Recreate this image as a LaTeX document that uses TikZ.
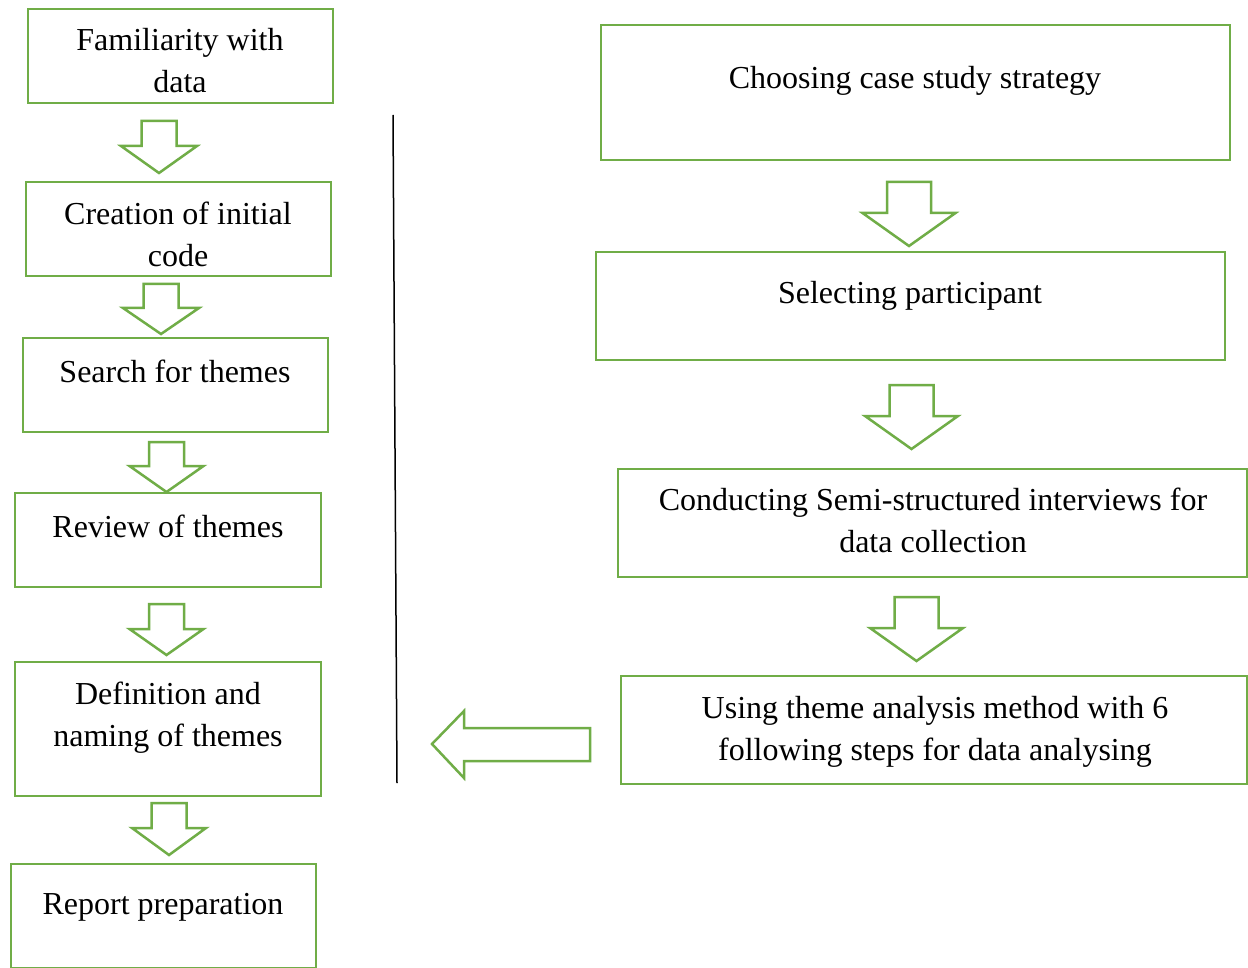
\documentclass[tikz,border=0pt]{standalone}
\usepackage{fontspec}
\setmainfont{Liberation Serif}
\definecolor{grn}{RGB}{112,173,71}
\newcommand\DArrow[6]{\draw[blk] (#1-#3,#2) -- (#1+#3,#2) -- (#1+#3,#2+#5) -- (#1+#4,#2+#5) -- (#1,#2+#5+#6) -- (#1-#4,#2+#5) -- (#1-#3,#2+#5) -- cycle;}
\begin{document}
\begin{tikzpicture}[x=0.5pt,y=-0.5pt,
  box/.style={draw=grn,line width=1.3pt,rectangle,inner sep=0pt},
  txt/.style={font=\fontsize{16}{21}\selectfont,align=center,inner sep=0pt,execute at begin node=\strut,execute at end node=\strut},
  blk/.style={draw=grn,line width=1.25pt,line join=miter,fill=white}]
\clip (0,0) rectangle (1248,968);
\fill[white] (0,0) rectangle (1248,968);
% left boxes
\node[box,minimum width=152.5pt,minimum height=47pt] (b1) at (180.5,56) {};
\node[box,minimum width=152.5pt,minimum height=47pt] (b2) at (178.5,229) {};
\node[box,minimum width=152.5pt,minimum height=47pt] (b3) at (175.5,385) {};
\node[box,minimum width=153pt,minimum height=47pt] (b4) at (168,540) {};
\node[box,minimum width=153pt,minimum height=67pt] (b5) at (168,729) {};
\node[box,minimum width=152.5pt,minimum height=52pt] (b6) at (163.5,916) {};
\node[txt] (t1) at (180,67) {Familiarity with\\data};
\node[txt] (t2) at (178,240.5) {Creation of initial\\code};
\node[txt] (t3) at (175,374) {Search for themes};
\node[txt] (t4) at (168,529) {Review of themes};
\node[txt] (t5) at (168,721) {Definition and\\naming of themes};
\node[txt] (t6) at (163,906) {Report preparation};
% right boxes
\node[box,minimum width=314.5pt,minimum height=67.5pt] (r1) at (915.5,92.5) {};
\node[box,minimum width=314.5pt,minimum height=54pt] (r2) at (910.5,306) {};
\node[box,minimum width=314.5pt,minimum height=54pt] (r3) at (932.5,523) {};
\node[box,minimum width=313pt,minimum height=54pt] (r4) at (934,730) {};
\node[txt] (s1) at (915,80.5) {Choosing case study strategy};
\node[txt] (s2) at (910,295) {Selecting participant};
\node[txt] (s3) at (933,527) {Conducting Semi-structured interviews for\\data collection};
\node[txt] (s4) at (935,735) {Using theme analysis method with 6\\following steps for data analysing};
% left block arrows
\DArrow{159}{121}{17.5}{38}{25}{27}
\DArrow{161}{284}{17.5}{38}{24}{26}
\DArrow{166.5}{442}{17.5}{37}{24}{26}
\DArrow{166.5}{604}{17.5}{37}{25}{26}
\DArrow{169}{803}{17.5}{37}{25}{27}
% right block arrows
\DArrow{909}{182}{22}{46.5}{31}{33}
\DArrow{911.5}{385}{22}{46.5}{31}{33}
\DArrow{916.5}{597}{22}{46.5}{31}{33}
% left block arrow
\draw[blk] (432,744) -- (464,711) -- (464,728) -- (590,728) -- (590,761) -- (464,761) -- (464,778) -- cycle;
% divider
\coordinate (d1) at (393,115);
\coordinate (d2) at (397,783);
\draw[line width=0.75pt] (d1) -- (d2);
\end{tikzpicture}
\end{document}
